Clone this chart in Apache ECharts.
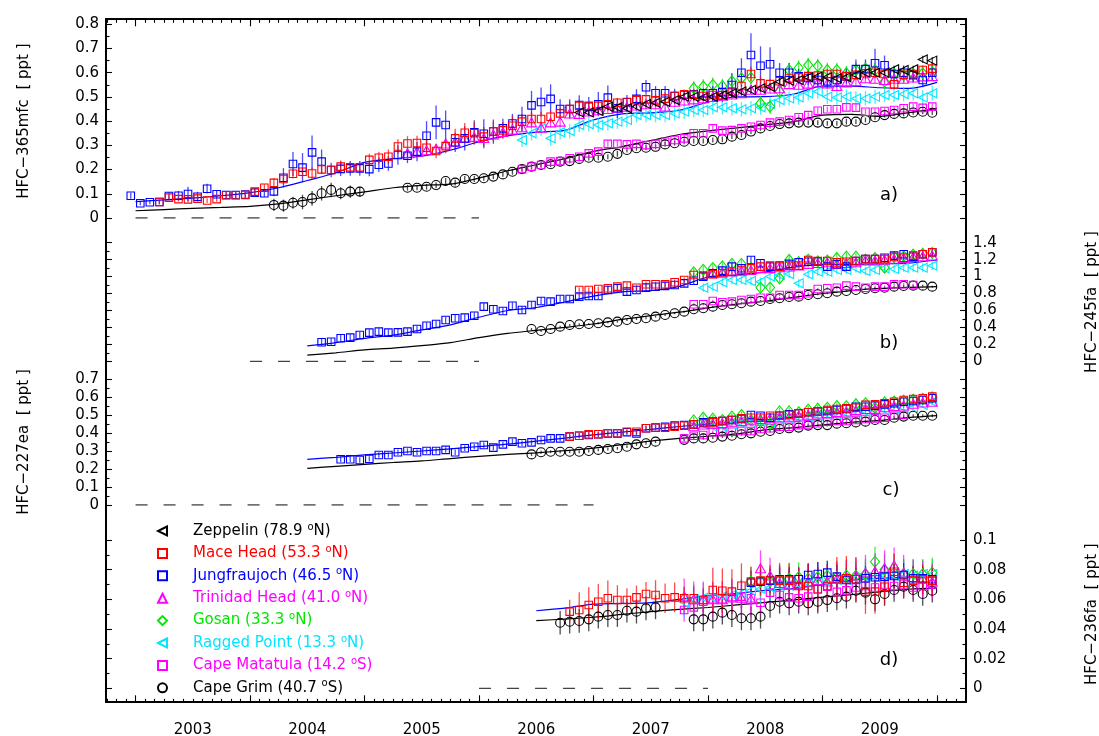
<!DOCTYPE html>
<html>
<head>
<meta charset="utf-8">
<title>HFC-365mfc, HFC-245fa, HFC-227ea, HFC-236fa</title>
<script src="https://cdn.jsdelivr.net/npm/echarts@6.0.0/dist/echarts.min.js"></script>
<style>
  html, body { margin: 0; padding: 0; background: #fff; }
  #main { width: 1099px; height: 736px; }
</style>
</head>
<body>
<div id="main"></div>
<script>
// x is decimal year; station series are monthly means, first value at month index "start" (0 = Jan 2003)
const yearTicks = [2003, 2004, 2005, 2006, 2007, 2008, 2009, 2010]
const yearLabels = [2003, 2004, 2005, 2006, 2007, 2008, 2009]

// ---- a) HFC-365mfc ----
const zepAStart = 46
const zepA = [0.436, 0.436, 0.442, 0.460, 0.457, 0.453, 0.460, 0.471, 0.476, 0.480, 0.487, 0.501, 0.501, 0.498, 0.501, 0.508, 0.515, 0.522, 0.529, 0.536, 0.542, 0.563, 0.567, 0.570, 0.581, 0.584, 0.581, 0.577, 0.581, 0.591, 0.600, 0.600, 0.600, 0.614, 0.611, 0.614, 0.655, 0.650]
const zepAErr = 0.015
const maceAStart = 2
const maceA = [0.066, 0.084, 0.078, 0.077, 0.080, 0.072, 0.078, 0.094, 0.094, 0.095, 0.109, 0.125, 0.145, 0.161, 0.183, 0.191,
  0.184, 0.201, 0.198, 0.212, 0.209, 0.209, 0.240, 0.249, 0.253, 0.295, 0.308, 0.310, 0.290, 0.277, 0.297, 0.329, 0.352, 0.350, 0.336, 0.357, 0.362, 0.381, 0.398, 0.409, 0.409, 0.418, 0.432, 0.450, 0.463, 0.463, 0.463,
  0.470, 0.476, 0.479, 0.487, 0.490, 0.486, 0.493, 0.504, 0.511, 0.509, 0.504, 0.508, 0.507, 0.522, 0.545, 0.595, 0.556, 0.553, 0.565, 0.576, 0.581, 0.586, 0.588, 0.595, 0.595, 0.586, 0.591, 0.598, 0.600, 0.595, 0.552, 0.591, 0.595, 0.611, 0.617]
const maceAErr = [0.008, 0.01, 0.01, 0.012, 0.01, 0.01, 0.01, 0.012, 0.012, 0.012, 0.015, 0.015,
  0.02, 0.02, 0.02, 0.02, 0.025, 0.02, 0.02, 0.025, 0.02, 0.02, 0.025, 0.025, 0.03, 0.03, 0.03, 0.03,
  0.035, 0.03, 0.03, 0.04, 0.04, 0.045, 0.04, 0.04, 0.035, 0.04, 0.03,
  0.03, 0.03, 0.025, 0.025, 0.03, 0.025, 0.02, 0.02, 0.02, 0.02, 0.02, 0.02, 0.02, 0.025, 0.025, 0.02, 0.02, 0.025, 0.02, 0.02,
  0.02, 0.025, 0.03, 0.03, 0.03, 0.02, 0.025, 0.02, 0.02, 0.025, 0.02, 0.02, 0.02, 0.02, 0.02, 0.025, 0.02, 0.02, 0.02, 0.03, 0.02, 0.02, 0.025]
const jfjAStart = -1
const jfjA = [0.092, 0.061, 0.065, 0.066, 0.091, 0.092, 0.099, 0.088, 0.121, 0.098, 0.095, 0.095, 0.097, 0.105, 0.102, 0.110, 0.166, 0.223,
  0.208, 0.271, 0.233, 0.198, 0.203, 0.205, 0.205, 0.202, 0.220, 0.225, 0.260, 0.257, 0.274, 0.340, 0.395, 0.384, 0.313, 0.329, 0.354, 0.348,
  0.357, 0.370, 0.390, 0.409, 0.465, 0.479, 0.492, 0.450, 0.450, 0.467, 0.460, 0.470, 0.497, 0.453, 0.478, 0.492, 0.540, 0.515, 0.515, 0.504,
  0.508, 0.511, 0.515, 0.515, 0.520, 0.549, 0.600, 0.673, 0.629, 0.635, 0.600, 0.600, 0.585, 0.578, 0.570, 0.565, 0.570, 0.585, 0.615, 0.615,
  0.639, 0.631, 0.595, 0.600, 0.590, 0.570, 0.600]
const jfjAErr = [0.012, 0.008, 0.008, 0.01, 0.015, 0.02, 0.03, 0.02, 0.02, 0.015, 0.015, 0.012, 0.012, 0.012, 0.015, 0.02, 0.04, 0.05,
  0.06, 0.07, 0.05, 0.03, 0.03, 0.03, 0.03, 0.03, 0.03, 0.03, 0.04, 0.03, 0.04, 0.06, 0.07, 0.06, 0.04, 0.05, 0.05, 0.06,
  0.05, 0.04, 0.04, 0.05, 0.06, 0.06, 0.06, 0.04, 0.04, 0.04, 0.04, 0.05, 0.05, 0.04, 0.03, 0.04, 0.03, 0.03, 0.03, 0.03,
  0.02, 0.02, 0.02, 0.03, 0.04, 0.05, 0.06, 0.09, 0.08, 0.07, 0.04, 0.04, 0.03, 0.03, 0.03, 0.03, 0.03, 0.03, 0.04, 0.04,
  0.06, 0.04, 0.03, 0.03, 0.03, 0.03, 0.03]
const trinAStart = 28
const trinA = [0.267, 0.275, 0.280, 0.285, 0.308, 0.315, 0.330, 0.335, 0.330, 0.345, 0.355, 0.365, 0.375, 0.395, 0.373, 0.395, 0.398, 0.432, 0.430, 0.440,
  0.445, 0.450, 0.455, 0.460, 0.465, 0.470, 0.470, 0.460, 0.480, 0.485, 0.490, 0.495, 0.500, 0.505, 0.510, 0.515, 0.530, 0.530, 0.535, 0.536,
  0.553, 0.550, 0.555, 0.560, 0.556, 0.545, 0.560, 0.565, 0.577, 0.575, 0.570, 0.575, 0.575, 0.580, 0.585, 0.586]
const trinAErr = 0.02
const gosAStart = 58
const gosA = [0.536, 0.543, 0.550, 0.545, 0.565, 0.577, 0.580, 0.474, 0.460, 0.522, 0.611, 0.620, 0.632, 0.628, 0.611, 0.611, 0.598, 0.611, 0.617, 0.611, 0.563, 0.595, 0.590, 0.595, 0.598, 0.603]
const gosAErr = 0.03
const ragAStart = 40
const ragA = [0.322, 0.350, 0.370, 0.329, 0.354, 0.359, 0.384, 0.387, 0.384,
  0.391, 0.398, 0.405, 0.425, 0.425, 0.425, 0.425, 0.432, 0.439, 0.446, 0.446, 0.457, 0.457, 0.453, 0.449, 0.453, 0.457, 0.471, 0.487, 0.494,
  0.498, 0.515, 0.522, 0.501, 0.498, 0.501, 0.494, 0.494, 0.501, 0.508, 0.508, 0.512, 0.515, 0.498, 0.515]
const ragAErr = 0.03
const matAStart = 40
const matA = [0.202, 0.212, 0.219, 0.233, 0.235, 0.247, 0.253, 0.267, 0.274,
  0.306, 0.306, 0.304, 0.306, 0.301, 0.306, 0.315, 0.322, 0.329, 0.350, 0.350, 0.370, 0.361, 0.363, 0.370, 0.377, 0.384, 0.394, 0.398, 0.405,
  0.416, 0.425, 0.443, 0.449, 0.449, 0.457, 0.456, 0.439, 0.439, 0.442, 0.446, 0.453, 0.460, 0.455, 0.460]
const matAErr = 0.012
const grimAStart = 14
const grimA = [0.054, 0.051, 0.063, 0.066, 0.081, 0.102, 0.116, 0.102, 0.109, 0.109, null, null, null, null,
  0.125, 0.125, 0.129, 0.136, 0.153, 0.146, 0.161, 0.161, 0.164, 0.171, 0.180, 0.191, 0.202, 0.212, 0.219, 0.222, 0.233, 0.235, 0.244, 0.249,
  0.249, 0.253, 0.265, 0.281, 0.288, 0.290, 0.294, 0.304, 0.309, 0.315, 0.318, 0.318, 0.322,
  0.325, 0.336, 0.343, 0.357, 0.370, 0.380, 0.388, 0.391, 0.394, 0.394, 0.394, 0.391, 0.391, 0.398, 0.398, 0.405, 0.416, 0.425, 0.430, 0.432,
  0.436, 0.439, 0.435]
const grimAErr = [0.025, 0.025, 0.025, 0.03, 0.03, 0.03, 0.03, 0.025, 0.025, 0.02, 0, 0, 0, 0,
  0.012, 0.01, 0.012, 0.012, 0.012, 0.012, 0.012, 0.012, 0.01, 0.01, 0.01, 0.012, 0.01, 0.01, 0.01, 0.012, 0.01, 0.01, 0.01, 0.012,
  0.01, 0.01, 0.012, 0.01, 0.01, 0.01, 0.01, 0.01, 0.01, 0.01, 0.01, 0.01, 0.01, 0.012, 0.01, 0.01, 0.01, 0.01, 0.01, 0.01,
  0.01, 0.01, 0.01, 0.01, 0.01, 0.01, 0.012, 0.01, 0.01, 0.01, 0.01, 0.01, 0.012, 0.01, 0.01, 0.01]
const modelTimesA = [2003, 2003.25, 2003.5, 2003.75, 2004, 2004.25, 2004.5, 2004.75, 2005, 2005.25, 2005.5, 2005.75, 2006, 2006.25, 2006.5,
  2006.75, 2007, 2007.25, 2007.5, 2007.75, 2008, 2008.25, 2008.5, 2008.75, 2009, 2009.25, 2009.5, 2009.75, 2010]
const nhModelA = [0.068, 0.075, 0.082, 0.092, 0.105, 0.125, 0.155, 0.187, 0.230, 0.245, 0.255, 0.280, 0.315, 0.340, 0.355,
  0.362, 0.405, 0.430, 0.434, 0.445, 0.478, 0.500, 0.501, 0.512, 0.545, 0.545, 0.538, 0.535, 0.560]
const shModelA = [0.030, 0.035, 0.040, 0.044, 0.048, 0.058, 0.075, 0.092, 0.108, 0.125, 0.135, 0.140, 0.165, 0.195, 0.220,
  0.245, 0.275, 0.295, 0.320, 0.345, 0.360, 0.372, 0.385, 0.398, 0.425, 0.428, 0.420, 0.435, 0.453]
const zeroA = [2003, 2006]

// ---- b) HFC-245fa ----
const maceBStart = 46
const maceB = [0.842, 0.842, 0.854, 0.862, 0.881, 0.893, 0.869, 0.909, 0.909, 0.909, 0.933, 0.960, 1.019, 1.011, 1.027, 1.039, 1.058, 1.078, 1.098, 1.117,
  1.129, 1.117, 1.129, 1.129, 1.196, 1.184, 1.184, 1.168, 1.176, 1.184, 1.208, 1.208, 1.208, 1.231, 1.223, 1.247, 1.263, 1.287]
const maceBErr = 0.03
const jfjBStart = 19
const jfjB = [0.224, 0.231, 0.272, 0.279, 0.310, 0.338, 0.350, 0.338, 0.342, 0.350, 0.381, 0.420, 0.440, 0.488, 0.508, 0.515, 0.538, 0.645, 0.614, 0.594,
  0.656, 0.606, 0.665, 0.712, 0.704, 0.736, 0.736, 0.763, 0.771, 0.771, 0.842, 0.862, 0.822, 0.842,
  0.87, 0.88, 0.89, 0.90, 0.92, 0.95, 1.00, 1.04, 1.07,
  1.117, 1.098, 1.196, 1.157, 1.117, 1.13, 1.15, 1.17, 1.176, 1.18, 1.117, 1.145, 1.117, 1.184, 1.208, 1.208, 1.223, 1.247, 1.263, 1.235, 1.263, 1.287]
const jfjBErr = 0.04
const trinBStart = 60
const trinB = [1.04, 1.05, 1.06, 1.07, 1.078, 1.10, 1.10, 1.11, 1.12, 1.13, 1.15, 1.16, 1.17, 1.15, 1.16, 1.17, 1.19, 1.19, 1.20, 1.21, 1.22, 1.23, 1.24, 1.25]
const trinBErr = 0.04
const gosBStart = 58
const gosB = [1.05, 1.08, 1.10, 1.12, 1.15, 1.15, 1.10, 0.87, 0.87, 0.98, 1.196, 1.17, 1.20, 1.18, 1.19, 1.22, 1.235, 1.235, 1.20, 1.22, 1.105, 1.23, 1.24, 1.26, 1.27, 1.28]
const gosBErr = 0.05
const ragBStart = 59
const ragB = [0.869, 0.881, 0.933, 0.960, 0.960, 0.948, 0.940, 1.00, 1.02, 1.03, 0.921, 1.027, 1.058, 1.058, 1.078, 1.078, 1.098, 1.066, 1.078, 1.098, 1.09, 1.105, 1.105, 1.105, 1.129]
const ragBErr = 0.05
const matBStart = 58
const matB = [0.673, 0.673, 0.712, 0.697, 0.704, 0.724, 0.736, 0.751, 0.751, 0.783, 0.783, 0.783, 0.803, 0.854, 0.862, 0.869, 0.893, 0.881, 0.869, 0.881, 0.881, 0.909, 0.909, 0.90]
const matBErr = 0.015
const grimBStart = 41
const grimB = [0.381, 0.358, 0.381, 0.409, 0.429, 0.437, 0.440, 0.449, 0.460, 0.468, 0.488, 0.499, 0.508, 0.527, 0.547, 0.567, 0.586, 0.614, 0.626, 0.645,
  0.665, 0.673, 0.685, 0.704, 0.712, 0.736, 0.744, 0.759, 0.763, 0.783, 0.791, 0.803, 0.822, 0.830, 0.842, 0.854, 0.862, 0.869, 0.881, 0.889,
  0.893, 0.893, 0.881]
const grimBErr = 0.012
const modelTimesBC = [2004.5, 2004.75, 2005, 2005.25, 2005.5, 2005.75, 2006, 2006.25, 2006.5, 2006.75, 2007, 2007.25, 2007.5, 2007.75,
  2008, 2008.25, 2008.5, 2008.75, 2009, 2009.25, 2009.5, 2009.75, 2010]
const nhModelB = [0.181, 0.22, 0.27, 0.31, 0.37, 0.43, 0.52, 0.60, 0.635, 0.70, 0.77, 0.82, 0.835, 0.885, 0.995, 1.02, 1.055, 1.11, 1.145, 1.145, 1.15, 1.16, 1.196]
const shModelB = [0.072, 0.10, 0.135, 0.155, 0.185, 0.22, 0.28, 0.33, 0.365, 0.40, 0.44, 0.495, 0.54, 0.58, 0.63, 0.675, 0.71, 0.755, 0.80, 0.835, 0.86, 0.872, 0.881]
const zeroB = [2004, 2006]

// ---- c) HFC-227ea ----
const maceCStart = 45
const maceC = [0.380, 0.385, 0.393, 0.393, 0.398, 0.398, 0.407, 0.407, 0.426, 0.430, 0.430, 0.435, 0.441, 0.448, 0.454, 0.459, 0.467, 0.472, 0.481, 0.485,
  0.485, 0.496, 0.496, 0.500, 0.509, 0.515, 0.519, 0.528, 0.533, 0.537, 0.541, 0.556, 0.559, 0.565, 0.574, 0.583, 0.589, 0.593, 0.602]
const maceCErr = 0.012
const jfjCStart = 21
const jfjC = [0.254, 0.254, 0.250, 0.256, 0.278, 0.278, 0.293, 0.300, 0.293, 0.300, 0.300, 0.306, 0.293, 0.315, 0.324, 0.333, 0.319, 0.337, 0.352, 0.343,
  0.348, 0.361, 0.370, 0.370, 0.380, 0.385, 0.389, 0.393, 0.398, 0.398, 0.404, 0.398, 0.426, 0.430, 0.435, 0.441, 0.444, 0.448, 0.459, 0.463,
  0.467, 0.472, 0.478, 0.500, 0.496, 0.485, 0.496, 0.504, 0.509, 0.515, 0.519, 0.522, 0.528, 0.533, 0.546, 0.546, 0.552, 0.559, 0.565, 0.574,
  0.578, 0.583, 0.593]
const jfjCErr = 0.015
const trinCStart = 58
const trinC = [0.438, 0.447, 0.452, 0.455, 0.463, 0.466, 0.471, 0.478, 0.482, 0.488, 0.49, 0.497, 0.501, 0.508, 0.51, 0.517, 0.52, 0.527, 0.533, 0.534, 0.543, 0.55, 0.553, 0.562, 0.57, 0.574]
const trinCErr = 0.015
const gosCStart = 58
const gosC = [0.47, 0.485, 0.48, 0.472, 0.491, 0.50, 0.472, 0.46, 0.45, 0.52, 0.52, 0.515, 0.53, 0.535, 0.54, 0.55, 0.548, 0.56, 0.565, 0.54, 0.57, 0.575, 0.58, 0.585, 0.59, 0.598]
const gosCErr = 0.02
const ragCStart = 59
const ragC = [0.448, 0.435, 0.435, 0.448, 0.454, 0.459, 0.463, 0.459, 0.478, 0.481, 0.485, 0.491, 0.496, 0.504, 0.504, 0.509, 0.519, 0.519, 0.528, 0.528, 0.537, 0.541, 0.541, 0.556, 0.574]
const ragCErr = 0.015
const matCStart = 57
const matC = [0.370, 0.385, 0.389, 0.404, 0.404, 0.407, 0.411, 0.411, 0.422, 0.426, 0.435, 0.435, 0.444, 0.448, 0.454, 0.463, 0.467, 0.467, 0.472, 0.478, 0.481, 0.485, 0.496, 0.500]
const matCErr = 0.01
const grimCStart = 41
const grimC = [0.281, 0.293, 0.296, 0.296, 0.296, 0.296, 0.300, 0.306, 0.311, 0.315, 0.324, 0.337, 0.343, 0.352, null, null,
  0.362, 0.370, 0.370, 0.374, 0.380, 0.385, 0.393, 0.398, 0.407, 0.411, 0.422, 0.426, 0.430, 0.441, 0.444, 0.444, 0.452, 0.454, 0.459, 0.463,
  0.472, 0.472, 0.485, 0.491, 0.496, 0.496, 0.496]
const grimCErr = 0.008
const nhModelC = [0.254, 0.265, 0.278, 0.289, 0.30, 0.312, 0.325, 0.338, 0.355, 0.372, 0.39, 0.405, 0.42, 0.436, 0.45, 0.46, 0.472, 0.49, 0.508, 0.526, 0.545, 0.562, 0.578]
const shModelC = [0.204, 0.215, 0.226, 0.236, 0.245, 0.258, 0.270, 0.281, 0.29, 0.302, 0.316, 0.335, 0.355, 0.370, 0.382, 0.395, 0.417, 0.43, 0.445, 0.459, 0.47, 0.485, 0.496]
const zeroC = [2003, 2007]

// ---- d) HFC-236fa ----
const maceDStart = 45
const maceD = [0.0517, 0.0528, 0.0562, 0.0584, 0.0607, 0.0595, 0.0595, 0.0613, 0.0636, 0.0629, 0.0607, 0.0613, 0.0607, 0.0607, 0.0595, 0.0663, 0.0658, 0.0652, 0.0692, 0.0719,
  0.0726, 0.0730, 0.0726, 0.0726, 0.0690, 0.0690, 0.0668, 0.0690, 0.0735, 0.0742, 0.0735, 0.0652, 0.0652, 0.0685, 0.0786, 0.0712, 0.0726, 0.0735, 0.0726]
const maceDErr = [0.008, 0.012, 0.012, 0.012, 0.012, 0.01, 0.008, 0.008, 0.008, 0.01, 0.01, 0.01, 0.008, 0.008, 0.008, 0.015, 0.015, 0.015, 0.015, 0.01,
  0.01, 0.01, 0.012, 0.012, 0.012, 0.015, 0.015, 0.015, 0.015, 0.015, 0.015, 0.015, 0.015, 0.012, 0.012, 0.01, 0.01, 0.01, 0.01]
const jfjDStart = 64
const jfjD = [0.0712, 0.0719, 0.0726, 0.0735, 0.0735, 0.0735, 0.0764, 0.0771, 0.0780, 0.0753, 0.0730, 0.0735, 0.0742, 0.0749, 0.0753, 0.0757, 0.0764, 0.0742, 0.0742, 0.0735]
const jfjDErr = 0.008
const trinDStart = 57
const trinD = [0.062, 0.060, 0.060, 0.060, 0.060, 0.062, 0.061, 0.060, 0.081, 0.076, 0.071, 0.070, 0.070, 0.072, 0.073, 0.072, 0.074, 0.075, 0.076, 0.078, 0.079, 0.081, 0.083, 0.078, 0.075, 0.074, 0.072]
const trinDErr = 0.012
const gosDStart = 64
const gosD = [0.072, 0.072, 0.072, 0.073, 0.074, 0.075, 0.074, 0.075, 0.076, 0.075, 0.076, 0.076, 0.077, 0.0854, 0.080, 0.081, 0.077, 0.077, 0.077, 0.078]
const gosDErr = 0.01
const ragDStart = 57
const ragD = [0.058, 0.060, 0.061, 0.061, 0.062, 0.063, 0.064, 0.066, 0.067, 0.068, 0.069, 0.069, 0.070, 0.071, 0.072, 0.072, 0.073, 0.073, 0.074, 0.075, 0.075, 0.076, 0.076, 0.077, 0.076, 0.077, 0.077]
const ragDErr = 0.01
const matDStart = 57
const matD = [0.0528, 0.0546, 0.0584, 0.0600, 0.0600, 0.0607, 0.0618, 0.0607, 0.0577, 0.0645, 0.0629, 0.0613, 0.0607, 0.0618, 0.0668, 0.0685,
  0.065, 0.066, 0.068, 0.069, 0.068, 0.070, 0.069, 0.070, 0.068, 0.069, 0.070]
const matDErr = 0.008
const grimDStart = 44
const grimD = [0.0442, 0.0449, 0.0454, 0.0465, 0.0483, 0.0494, 0.0494, 0.0523, 0.0517, 0.0539, 0.0546, null, null, null,
  0.0465, 0.0465, 0.0483, 0.0510, 0.0494, 0.0472, 0.0472, 0.0483, 0.0555, 0.0584, 0.0573, 0.0584, 0.0573, 0.0584, 0.0595, 0.0607, 0.0618, 0.0658, 0.0645, 0.0600,
  0.0636, 0.0663, 0.0685, 0.0663, 0.0636, 0.0658]
const grimDErr = 0.008
const modelTimesD = [2006.5, 2006.75, 2007, 2007.25, 2007.5, 2007.75, 2008, 2008.25, 2008.5, 2008.75, 2009, 2009.25, 2009.5, 2009.75, 2010]
const nhModelD = [0.0523, 0.054, 0.0567, 0.0572, 0.0578, 0.060, 0.0625, 0.064, 0.066, 0.0674, 0.070, 0.073, 0.0742, 0.0748, 0.075]
const shModelD = [0.0456, 0.0467, 0.0479, 0.0498, 0.0517, 0.0532, 0.0545, 0.0562, 0.058, 0.0595, 0.0615, 0.0632, 0.065, 0.0668, 0.0675]
const zeroD = [2006, 2008]

// ---------------------------------------------------------------
const FONT = 'DejaVu Sans'
const XMIN = 2002.742
const XMAX = 2010.253
const LEFT_TRI = 'path://M10,0L0,5L10,10Z'

const STYLE = {
  'Zeppelin': { lat: '78.9', hemi: 'N', color: '#000000', symbol: LEFT_TRI, size: [9, 9] },
  'Mace Head': { lat: '53.3', hemi: 'N', color: '#ff0000', symbol: 'rect', size: 7.5 },
  'Jungfraujoch': { lat: '46.5', hemi: 'N', color: '#0000ff', symbol: 'rect', size: 7.5 },
  'Trinidad Head': { lat: '41.0', hemi: 'N', color: '#ff00ff', symbol: 'triangle', size: [10, 9] },
  'Gosan': { lat: '33.3', hemi: 'N', color: '#00e600', symbol: 'diamond', size: [9, 11] },
  'Ragged Point': { lat: '13.3', hemi: 'N', color: '#00e5ff', symbol: LEFT_TRI, size: [9, 9] },
  'Cape Matatula': { lat: '14.2', hemi: 'S', color: '#ff00ff', symbol: 'rect', size: 7.5 },
  'Cape Grim': { lat: '40.7', hemi: 'S', color: '#000000', symbol: 'circle', size: 9 },
}
const legendOrder = ['Zeppelin', 'Mace Head', 'Jungfraujoch', 'Trinidad Head', 'Gosan', 'Ragged Point', 'Cape Matatula', 'Cape Grim']

const panels = [
  {
    stations: [['Cape Grim', grimAStart, grimA, grimAErr], ['Cape Matatula', matAStart, matA, matAErr], ['Ragged Point', ragAStart, ragA, ragAErr],
      ['Gosan', gosAStart, gosA, gosAErr], ['Trinidad Head', trinAStart, trinA, trinAErr], ['Jungfraujoch', jfjAStart, jfjA, jfjAErr],
      ['Mace Head', maceAStart, maceA, maceAErr], ['Zeppelin', zepAStart, zepA, zepAErr]],
    times: modelTimesA, nh: nhModelA, sh: shModelA, zero: zeroA,
  },
  {
    stations: [['Cape Grim', grimBStart, grimB, grimBErr], ['Cape Matatula', matBStart, matB, matBErr], ['Ragged Point', ragBStart, ragB, ragBErr],
      ['Gosan', gosBStart, gosB, gosBErr], ['Trinidad Head', trinBStart, trinB, trinBErr], ['Jungfraujoch', jfjBStart, jfjB, jfjBErr],
      ['Mace Head', maceBStart, maceB, maceBErr]],
    times: modelTimesBC, nh: nhModelB, sh: shModelB, zero: zeroB,
  },
  {
    stations: [['Cape Grim', grimCStart, grimC, grimCErr], ['Cape Matatula', matCStart, matC, matCErr], ['Ragged Point', ragCStart, ragC, ragCErr],
      ['Gosan', gosCStart, gosC, gosCErr], ['Trinidad Head', trinCStart, trinC, trinCErr], ['Jungfraujoch', jfjCStart, jfjC, jfjCErr],
      ['Mace Head', maceCStart, maceC, maceCErr]],
    times: modelTimesBC, nh: nhModelC, sh: shModelC, zero: zeroC,
  },
  {
    stations: [['Cape Grim', grimDStart, grimD, grimDErr], ['Cape Matatula', matDStart, matD, matDErr], ['Ragged Point', ragDStart, ragD, ragDErr],
      ['Gosan', gosDStart, gosD, gosDErr], ['Trinidad Head', trinDStart, trinD, trinDErr], ['Jungfraujoch', jfjDStart, jfjD, jfjDErr],
      ['Mace Head', maceDStart, maceD, maceDErr]],
    times: modelTimesD, nh: nhModelD, sh: shModelD, zero: zeroD,
  },
]

// pixel layout of the four stacked panels (+ two copies of the outer panels that only carry the monthly ticks)
const gridBoxes = [
  { top: 24.3, height: 193.7 },
  { top: 242.7, height: 118.6 },
  { top: 379, height: 126 },
  { top: 540, height: 148.3 },
  { top: 24.3, height: 193.7 },
  { top: 540, height: 148.3 },
]
const yScales = [
  { max: 0.8, interval: 0.1, side: 'left', name: 'HFC\u2212365mfc  [ ppt ]' },
  { max: 1.4, interval: 0.2, side: 'right', name: 'HFC\u2212245fa  [ ppt ]' },
  { max: 0.7, interval: 0.1, side: 'left', name: 'HFC\u2212227ea  [ ppt ]' },
  { max: 0.1, interval: 0.02, side: 'right', name: 'HFC\u2212236fa  [ ppt ]' },
]

function monthX(k) {
  return 2003 + (k + 0.5) / 12
}
function toPoints(start, vals) {
  const out = []
  vals.forEach((v, i) => { if (v != null) out.push([monthX(start + i), v]) })
  return out
}
function toBars(start, vals, err) {
  const out = []
  vals.forEach((v, i) => {
    if (v == null) return
    const e = Array.isArray(err) ? err[i] : err
    out.push([monthX(start + i), v - e, v + e])
  })
  return out
}

const monthTicks = []
for (let y = 2002; y <= 2010; y++) {
  for (let m = 1; m < 12; m++) {
    const t = y + m / 12
    if (t > XMIN && t < XMAX) monthTicks.push(t)
  }
}
const labelPos = yearLabels.map((y) => y + 0.5)

const tickStyle = { color: '#000', width: 1.1 }
const xBase = { type: 'value', min: XMIN, max: XMAX, splitLine: { show: false }, axisLine: { show: false, onZero: false } }
const xAxes = [
  Object.assign({}, xBase, { gridIndex: 0, position: 'top', offset: 5,
    axisTick: { inside: true, length: 7, lineStyle: tickStyle, customValues: yearTicks }, axisLabel: { show: false } }),
  Object.assign({}, xBase, { gridIndex: 1, show: false }),
  Object.assign({}, xBase, { gridIndex: 2, show: false }),
  Object.assign({}, xBase, { gridIndex: 3, position: 'bottom', offset: 14,
    axisTick: { inside: true, length: 7, lineStyle: tickStyle, customValues: yearTicks },
    axisLabel: { customValues: labelPos, formatter: (v) => String(Math.floor(v)), margin: 20, fontFamily: FONT, fontSize: 15, color: '#000' } }),
  Object.assign({}, xBase, { gridIndex: 4, position: 'top', offset: 5,
    axisTick: { inside: true, length: 3.5, lineStyle: tickStyle, customValues: monthTicks }, axisLabel: { show: false } }),
  Object.assign({}, xBase, { gridIndex: 5, position: 'bottom', offset: 14,
    axisTick: { inside: true, length: 3.5, lineStyle: tickStyle, customValues: monthTicks }, axisLabel: { show: false } }),
]

const yAxes = []
yScales.forEach((s, g) => {
  const base = {
    type: 'value', gridIndex: g, min: 0, max: s.max, interval: s.interval,
    axisLine: { show: false, onZero: false }, splitLine: { show: false },
    axisTick: { inside: true, length: 6, lineStyle: tickStyle },
    minorTick: { show: true, splitNumber: 2, length: 3.5, lineStyle: tickStyle },
  }
  yAxes.push(Object.assign({}, base, {
    position: s.side,
    axisLabel: { fontFamily: FONT, fontSize: 15, color: '#000', margin: 7 },
    name: s.name, nameLocation: 'middle', nameRotate: 90,
    nameGap: s.side === 'left' ? 74 : 119,
    nameTextStyle: { fontFamily: FONT, fontSize: 15, color: '#000' },
  }))
  yAxes.push(Object.assign({}, base, { position: s.side === 'left' ? 'right' : 'left', axisLabel: { show: false } }))
})
yAxes.push({ type: 'value', gridIndex: 4, show: false, min: 0, max: 1 })
yAxes.push({ type: 'value', gridIndex: 5, show: false, min: 0, max: 1 })

const series = []
panels.forEach((p, g) => {
  const xi = g
  const yi = g * 2
  series.push({
    type: 'line', xAxisIndex: xi, yAxisIndex: yi, silent: true, symbol: 'none', z: 1,
    data: p.zero.map((x) => [x, 0]),
    lineStyle: { color: '#444', width: 1.3, type: [12, 16] },
  })
  series.push({
    type: 'line', xAxisIndex: xi, yAxisIndex: yi, silent: true, symbol: 'none', smooth: 0.3, z: 2,
    data: p.times.map((t, i) => [t, p.sh[i]]), lineStyle: { color: '#000', width: 1.2 },
  })
  series.push({
    type: 'line', xAxisIndex: xi, yAxisIndex: yi, silent: true, symbol: 'none', smooth: 0.3, z: 2,
    data: p.times.map((t, i) => [t, p.nh[i]]), lineStyle: { color: '#0000ff', width: 1.2 },
  })
  p.stations.forEach(([name, start, vals, err]) => {
    const st = STYLE[name]
    series.push({
      type: 'custom', name: name + ' error', xAxisIndex: xi, yAxisIndex: yi, silent: true, z: 3,
      data: toBars(start, vals, err),
      encode: { x: 0, y: [1, 2] },
      renderItem: (params, api) => {
        const a = api.coord([api.value(0), api.value(1)])
        const b = api.coord([api.value(0), api.value(2)])
        return { type: 'line', shape: { x1: a[0], y1: a[1], x2: b[0], y2: b[1] },
          style: { stroke: st.color, lineWidth: 1.3, opacity: 0.7 } }
      },
    })
    series.push({
      type: 'scatter', name: name, xAxisIndex: xi, yAxisIndex: yi, silent: true, z: 4,
      symbol: st.symbol, symbolSize: st.size,
      itemStyle: { color: 'rgba(255,255,255,0)', borderColor: st.color, borderWidth: 1.1, opacity: 1 },
      data: toPoints(start, vals),
    })
  })
})

const panelTags = [['a)', 889, 195], ['b)', 889, 343], ['c)', 891, 490], ['d)', 889, 660]]

const chart = echarts.init(document.getElementById('main'), null, { renderer: 'canvas' })
chart.setOption({
  animation: false,
  backgroundColor: '#fff',
  textStyle: { fontFamily: FONT },
  grid: gridBoxes.map((b) => ({ left: 106, right: 133, top: b.top, height: b.height, outerBoundsMode: 'none', containLabel: false })),
  xAxis: xAxes,
  yAxis: yAxes,
  legend: {
    data: legendOrder.map((n) => ({ name: n, textStyle: { color: STYLE[n].color } })),
    orient: 'vertical', left: 152, top: 517, itemWidth: 9, itemHeight: 9, itemGap: 4.4,
    selectedMode: false,
    textStyle: {
      fontFamily: FONT, fontSize: 15, lineHeight: 18,
      rich: { p: { width: 21 }, s: { fontSize: 10, verticalAlign: 'top', lineHeight: 10, padding: [0, 0, 6, 0] } },
    },
    formatter: (n) => '{p| }' + n + ' (' + STYLE[n].lat + ' {s|o}' + STYLE[n].hemi + ')',
  },
  graphic: [
    { type: 'rect', z: 100, silent: true, shape: { x: 106, y: 19, width: 860, height: 683 },
      style: { fill: 'none', stroke: '#000', lineWidth: 2 } },
  ].concat(panelTags.map(([t, x, y]) => ({
    type: 'text', x: x, y: y, z: 100, silent: true,
    style: { text: t, font: '18px "DejaVu Sans"', fill: '#000', align: 'center', verticalAlign: 'middle' },
  }))),
  series: series,
})
</script>
</body>
</html>
